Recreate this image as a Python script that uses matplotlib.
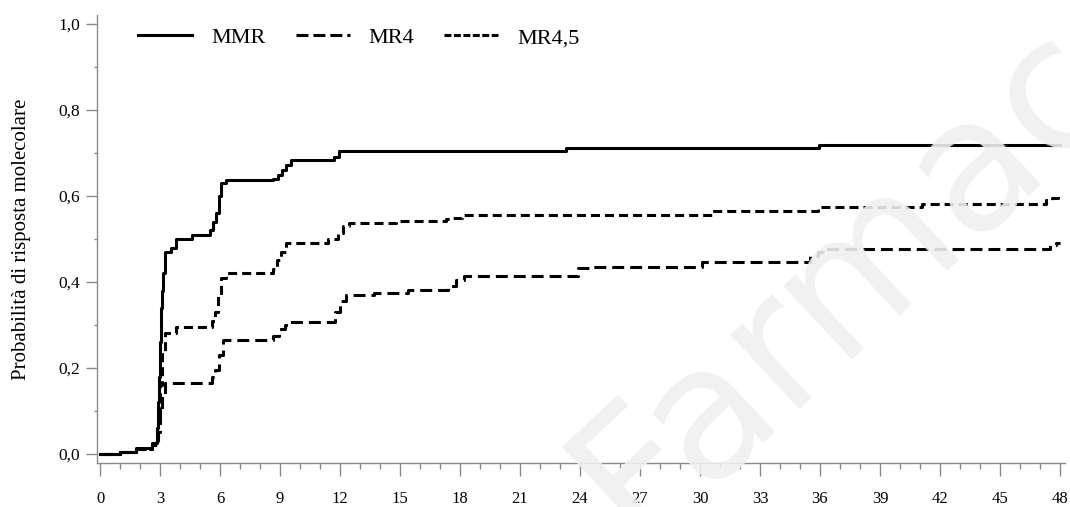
import matplotlib
matplotlib.use("Agg")
import matplotlib.pyplot as plt
from matplotlib.lines import Line2D
from matplotlib.ticker import MultipleLocator

# Kaplan-Meier style cumulative response curves (months vs probability)
mmr_t = [0, 1.0, 1.8, 2.6, 2.85, 2.9, 2.95, 3.0, 3.05, 3.1, 3.15, 3.25, 3.55, 3.8,
         4.6, 5.5, 5.65, 5.8, 5.95, 6.05, 6.3, 8.65, 8.9, 9.1, 9.3, 9.55, 11.7,
         11.95, 23.3, 35.95, 48]
mmr_v = [0, 0.005, 0.015, 0.025, 0.06, 0.12, 0.18, 0.26, 0.34, 0.38, 0.42, 0.47,
         0.48, 0.50, 0.51, 0.52, 0.54, 0.56, 0.60, 0.63, 0.637, 0.64, 0.65, 0.66,
         0.672, 0.683, 0.69, 0.705, 0.711, 0.719, 0.719]

mr4_t = [0, 1.0, 1.8, 2.6, 2.9, 3.0, 3.1, 3.25, 3.8, 5.6, 5.75, 5.9, 6.05, 6.3,
         8.65, 8.85, 9.05, 9.3, 11.4, 11.9, 12.15, 12.45, 14.8, 17.3, 17.6, 18.1,
         30.6, 35.9, 41.1, 47.3, 47.6, 47.9, 48]
mr4_v = [0, 0.005, 0.012, 0.02, 0.08, 0.16, 0.24, 0.282, 0.296, 0.31, 0.331, 0.37,
         0.41, 0.42, 0.43, 0.45, 0.47, 0.49, 0.50, 0.515, 0.53, 0.537, 0.542,
         0.547, 0.55, 0.556, 0.564, 0.575, 0.581, 0.59, 0.595, 0.60, 0.60]

mr45_t = [0, 1.0, 1.8, 2.6, 2.9, 3.0, 3.1, 3.25, 5.6, 5.75, 5.95, 6.15, 8.65, 8.95,
          9.25, 9.5, 11.75, 12.0, 12.3, 13.7, 15.4, 17.4, 17.8, 18.2, 23.9, 24.6,
          30.1, 35.5, 35.9, 36.2, 47.5, 47.8, 48]
mr45_v = [0, 0.005, 0.012, 0.02, 0.05, 0.10, 0.14, 0.165, 0.18, 0.195, 0.23, 0.265,
          0.275, 0.29, 0.30, 0.308, 0.33, 0.355, 0.37, 0.375, 0.381, 0.39, 0.405,
          0.415, 0.432, 0.436, 0.447, 0.46, 0.47, 0.477, 0.485, 0.49, 0.49]

x_ticks = list(range(0, 49, 3))
y_ticks = [0.0, 0.2, 0.4, 0.6, 0.8, 1.0]
y_labels = ["0,0", "0,2", "0,4", "0,6", "0,8", "1,0"]

plt.rcParams["font.family"] = ["Liberation Serif", "DejaVu Serif"]
plt.rcParams["lines.scale_dashes"] = False

fig = plt.figure(figsize=(10.7, 5.07), dpi=100)
ax = fig.add_axes([0.0907, 0.0868, 0.9046, 0.8836])

lw = 2.2
ax.plot(mmr_t, mmr_v, color="black", lw=lw, drawstyle="steps-post")
ax.plot(mr4_t, mr4_v, color="black", lw=lw, drawstyle="steps-post",
        linestyle=(0, (6.5, 3.6)))
ax.plot(mr45_t, mr45_v, color="black", lw=lw, drawstyle="steps-post",
        linestyle=(0, (8.6, 4.3)))

ax.set_xlim(-0.15, 48.25)
ax.set_ylim(-0.021, 1.021)

ax.set_xticks(x_ticks)
ax.set_xticklabels([str(t) for t in x_ticks])
ax.xaxis.set_minor_locator(MultipleLocator(1))
ax.set_yticks(y_ticks)
ax.set_yticklabels(y_labels)
ax.yaxis.set_minor_locator(MultipleLocator(0.1))

spine_col = "#8a8a8a"
for s in ["top", "right"]:
    ax.spines[s].set_visible(False)
for s in ["left", "bottom"]:
    ax.spines[s].set_color(spine_col)
    ax.spines[s].set_linewidth(1.0)

ax.tick_params(axis="x", which="major", length=9, width=1, color=spine_col,
               labelsize=12, pad=11)
ax.tick_params(axis="x", which="minor", length=4.5, width=1, color=spine_col)
ax.tick_params(axis="y", which="major", length=8, width=1, color=spine_col,
               labelsize=12.5, pad=4)
ax.tick_params(axis="y", which="minor", length=2.5, width=1, color=spine_col)

ax.set_ylabel("Probabilità di risposta molecolare", fontsize=15)
ax.yaxis.set_label_coords(-0.068, 0.5)

handles = [
    Line2D([], [], color="black", lw=lw),
    Line2D([], [], color="black", lw=lw, linestyle=(0, (8.6, 3.6))),
    Line2D([], [], color="black", lw=lw, linestyle=(0, (5.0, 1.8))),
]
ax.legend(handles, ["MMR", "MR4", "MR4,5"], loc="center left",
          bbox_to_anchor=(0.0424, 0.9487), ncol=3, frameon=False,
          fontsize=16, handlelength=2.43, handletextpad=0.86,
          columnspacing=1.35, borderpad=0, borderaxespad=0)

# light watermark across the lower right corner
fig.text(0.505, -0.13, "Farmac", fontsize=132, color="#f0f0f0", alpha=0.9,
         rotation=43, family="DejaVu Sans", ha="left", va="bottom", zorder=10)

fig.savefig("out.png", dpi=100)
